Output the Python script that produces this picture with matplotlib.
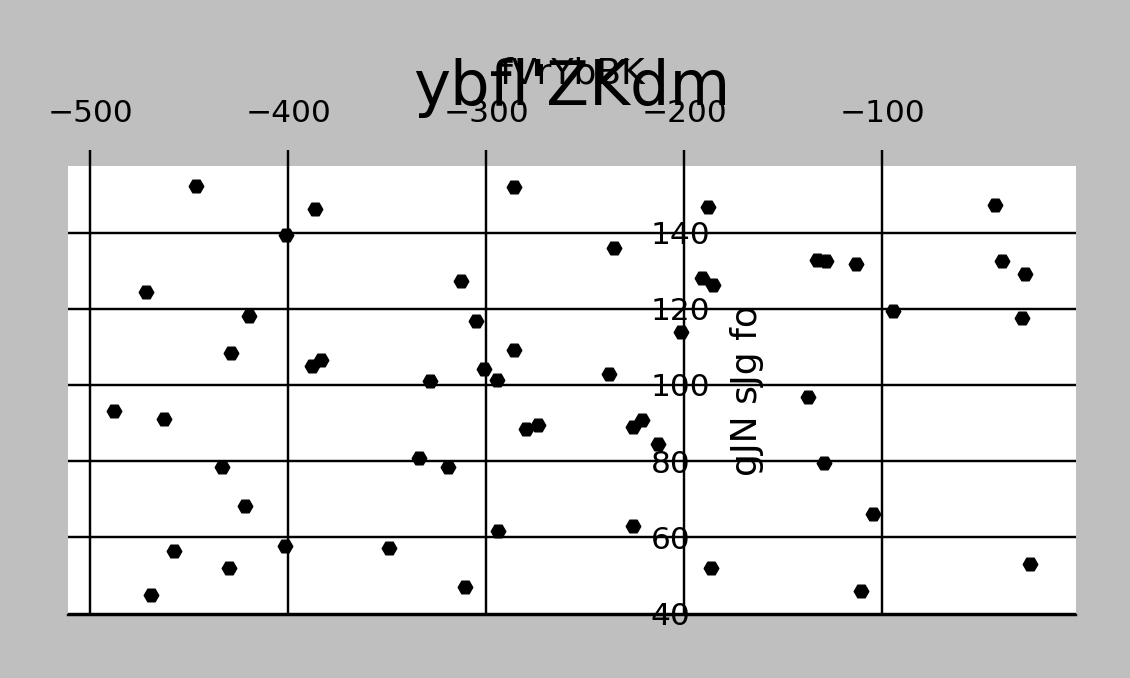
import matplotlib
matplotlib.use('Agg')
import matplotlib.pyplot as plt

# data
x_vals = [-446.5, -386.4, -401.2, -472.2, -419.7, -428.8, -388.0, -383.5, -488.2, -463.1,
          -433.8, -421.7, -401.5, -457.6, -429.8, -469.2, -285.9, -312.6, -305.2, -285.9,
          -301.2, -294.4, -328.3, -273.7, -279.9, -334.0, -319.2, -294.1, -349.1, -310.8,
          -187.9, -235.4, -190.9, -185.4, -132.8, -128.3, -201.7, -237.9, -137.5, -221.2,
          -225.9, -213.1, -129.3, -225.9, -186.4, -42.9, -113.1, -39.5, -27.8, -94.6,
          -29.3, -104.5, -25.3, -110.6]
y_vals = [152.1, 146.2, 139.4, 124.4, 118.0, 108.4, 104.9, 106.6, 93.2, 91.1,
          78.6, 68.3, 57.8, 56.5, 52.0, 45.0, 151.9, 127.3, 116.8, 109.2,
          104.3, 101.4, 101.1, 89.6, 88.4, 80.8, 78.5, 61.8, 57.2, 46.9,
          146.7, 135.9, 128.0, 126.1, 132.8, 132.4, 114.0, 102.9, 96.8, 90.7,
          88.9, 84.5, 79.6, 62.9, 52.0, 147.1, 131.8, 132.4, 129.1, 119.5,
          117.7, 66.1, 53.1, 46.0]
x_ticks = [-500, -400, -300, -200, -100]
y_ticks = [40, 60, 80, 100, 120, 140]

title_text = "ybfl'ZKdm"
xlabel_text = "fVrYbBK"
ylabel_text = "gJN sJg fo"

fig = plt.figure(figsize=(11.3, 6.78), dpi=100)
fig.patch.set_facecolor('#bfbfbf')
ax = fig.add_axes([0.0602, 0.0929, 0.892, 0.6623])
ax.set_facecolor('white')

ax.scatter(x_vals, y_vals, marker='H', s=110, color='black', zorder=3)

ax.set_xticks(x_ticks)
ax.set_yticks(y_ticks)
ax.grid(True, color='black', linewidth=1.75)
ax.set_axisbelow(True)

# spines: only bottom kept
for side in ['top', 'left']:
    ax.spines[side].set_visible(False)
ax.spines['bottom'].set_linewidth(1.75)

# x ticks on top
ax.xaxis.tick_top()
ax.xaxis.set_label_position('top')
ax.tick_params(axis='x', length=11.5, width=1.75, pad=15.5, labelsize=22.5)

# y tick labels floating inside the plot
ax.yaxis.set_ticks_position('right')
ax.spines['right'].set_position(('axes', 0.578))
ax.spines['right'].set_visible(False)
ax.tick_params(axis='y', length=0, pad=0, labelsize=22.5)

ax.set_xlabel(xlabel_text, fontsize=26)
ax.xaxis.set_label_coords(0.5, 1.183)
ax.set_ylabel(ylabel_text, fontsize=26)
ax.yaxis.set_label_position('left')
ax.yaxis.set_label_coords(0.690, 0.5)

ax.set_title(title_text, fontsize=45, pad=0, y=1.135)

fig.savefig('out.png', dpi=100, facecolor=fig.get_facecolor())
